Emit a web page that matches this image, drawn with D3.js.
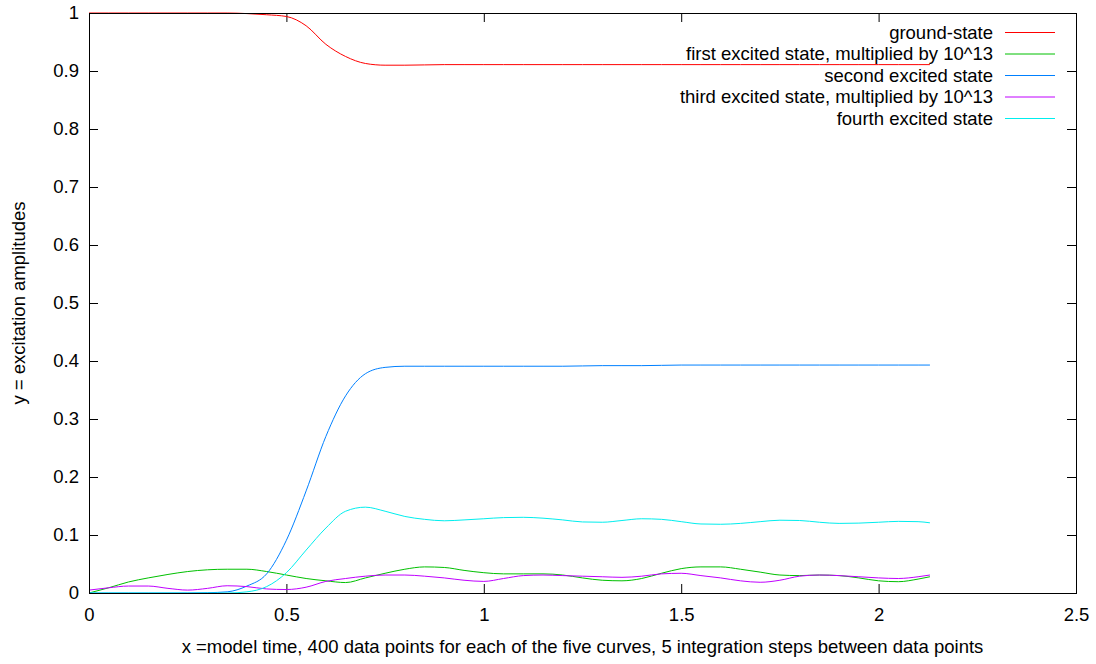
<!DOCTYPE html>
<html>
<head>
<meta charset="utf-8">
<script src="https://cdn.jsdelivr.net/npm/d3@7"></script>
<style>
    body { margin: 0; background: #fff; }
    svg { display: block; font-family: "Liberation Sans", Arial, sans-serif; }
</style>
</head>
<body>
<div id="chart"></div>
<script>
// model time (shared x values of the sampled curves)
const times = [0, 0.05, 0.1, 0.15, 0.2, 0.25, 0.3, 0.35, 0.4, 0.45, 0.5, 0.55, 0.6, 0.65, 0.7, 0.75, 0.8, 0.85, 0.9, 0.95,
    1.0, 1.05, 1.1, 1.15, 1.2, 1.25, 1.3, 1.35, 1.4, 1.45, 1.5, 1.55, 1.6, 1.65, 1.7, 1.75, 1.8, 1.85, 1.9, 1.95,
    2.0, 2.05, 2.1, 2.13];

const groundState = [1, 1, 1, 1, 1, 1, 1, 1, 0.999, 0.997, 0.994, 0.978, 0.946, 0.925, 0.913, 0.910, 0.910, 0.9105, 0.911, 0.911,
    0.911, 0.911, 0.911, 0.911, 0.911, 0.911, 0.911, 0.911, 0.911, 0.911, 0.911, 0.911, 0.911, 0.911, 0.911, 0.911, 0.911, 0.911, 0.911, 0.911,
    0.911, 0.911, 0.911, 0.911];

const firstExcited = [0, 0.009, 0.019, 0.026, 0.032, 0.037, 0.040, 0.041, 0.041, 0.037, 0.031, 0.025, 0.021, 0.018, 0.026, 0.034, 0.041, 0.045, 0.044, 0.039,
    0.035, 0.033, 0.033, 0.033, 0.031, 0.026, 0.022, 0.021, 0.025, 0.034, 0.042, 0.045, 0.045, 0.041, 0.036, 0.031, 0.030, 0.031, 0.030, 0.026,
    0.021, 0.0195, 0.024, 0.028];

const secondExcited = [0, 0, 0, 0, 0, 0, 0.0005, 0.002, 0.012, 0.033, 0.091, 0.176, 0.270, 0.340, 0.378, 0.389, 0.391, 0.391, 0.391, 0.391,
    0.391, 0.391, 0.391, 0.391, 0.391, 0.3915, 0.392, 0.392, 0.392, 0.3925, 0.393, 0.393, 0.393, 0.393, 0.393, 0.393, 0.393, 0.393, 0.393, 0.393,
    0.393, 0.393, 0.393, 0.393];

const thirdExcited = [0.005, 0.009, 0.012, 0.012, 0.008, 0.005, 0.008, 0.0125, 0.011, 0.007, 0.006, 0.010, 0.020, 0.025, 0.029, 0.031, 0.031, 0.029, 0.026, 0.022,
    0.020, 0.025, 0.030, 0.031, 0.030, 0.029, 0.028, 0.027, 0.029, 0.033, 0.034, 0.030, 0.026, 0.021, 0.0185, 0.022, 0.029, 0.031, 0.030, 0.028,
    0.026, 0.025, 0.028, 0.031];

const fourthExcited = [0, 0, 0, 0, 0, 0, 0, 0, 0.002, 0.011, 0.035, 0.074, 0.112, 0.141, 0.148, 0.141, 0.132, 0.127, 0.1245, 0.126,
    0.128, 0.130, 0.1305, 0.129, 0.126, 0.1225, 0.122, 0.125, 0.128, 0.127, 0.123, 0.119, 0.1185, 0.120, 0.123, 0.1255, 0.125, 0.122, 0.120, 0.1205,
    0.122, 0.1235, 0.123, 0.121];

const seriesNames = ["ground-state", "first excited state, multiplied by 10^13", "second excited state",
    "third excited state, multiplied by 10^13", "fourth excited state"];
const seriesValues = [groundState, firstExcited, secondExcited, thirdExcited, fourthExcited];
const seriesColors = ["#ff0000", "#00c000", "#0080ff", "#c000ff", "#00eeee"];

const xTicks = [0, 0.5, 1, 1.5, 2, 2.5];
const yTicks = [0, 0.1, 0.2, 0.3, 0.4, 0.5, 0.6, 0.7, 0.8, 0.9, 1];

const xTitle = "x =model time, 400 data points for each of the five curves, 5 integration steps between data points";
const yTitle = "y = excitation amplitudes";

// 画布尺寸
const width = 1096, height = 664;
const margin = { top: 13, right: 20, bottom: 71, left: 89 };
const fontSize = 18.5;

const svg = d3.select("#chart")
    .append("svg")
    .attr("width", width)
    .attr("height", height);

const x = d3.scaleLinear().domain([0, 2.5]).range([margin.left, width - margin.right]);
const y = d3.scaleLinear().domain([0, 1]).range([height - margin.bottom, margin.top]);

// 刻度（gnuplot 风格：内向、四边镜像）
const tickLen = 9;
const axes = [
    { axis: d3.axisBottom(x).tickValues(xTicks).tickFormat(d3.format("")), pos: `translate(0,${y(0)})`, labels: true, pad: 15 },
    { axis: d3.axisTop(x).tickValues(xTicks), pos: `translate(0,${y(1)})`, labels: false, pad: 0 },
    { axis: d3.axisLeft(y).tickValues(yTicks).tickFormat(d3.format("")), pos: `translate(${x(0)},0)`, labels: true, pad: 10 },
    { axis: d3.axisRight(y).tickValues(yTicks), pos: `translate(${x(2.5)},0)`, labels: false, pad: 0 }
];
axes.forEach(a => {
    const g = svg.append("g")
        .attr("transform", a.pos)
        .call(a.axis.tickSizeInner(-tickLen).tickSizeOuter(0).tickPadding(a.pad));
    g.select(".domain").remove();
    g.selectAll(".tick line").attr("stroke", "#000").attr("stroke-width", 1);
    g.selectAll(".tick text")
        .attr("fill", "#000")
        .attr("font-size", fontSize)
        .attr("font-family", "Liberation Sans, Arial, sans-serif");
    if (!a.labels) g.selectAll(".tick text").remove();
});

// 曲线
const line = d3.line()
    .x((d, i) => x(times[i]))
    .y(d => y(d))
    .curve(d3.curveMonotoneX);

svg.append("g")
    .selectAll("path")
    .data(seriesValues)
    .join("path")
    .attr("fill", "none")
    .attr("stroke", (d, i) => seriesColors[i])
    .attr("stroke-width", 1)
    .attr("d", line);

// 边框
svg.append("rect")
    .attr("x", x(0) + 0.5)
    .attr("y", y(1) + 0.5)
    .attr("width", x(2.5) - x(0))
    .attr("height", y(0) - y(1))
    .attr("fill", "none")
    .attr("stroke", "#000")
    .attr("stroke-width", 1);

// 图例
const legend = svg.append("g")
    .selectAll("g")
    .data(seriesNames)
    .join("g")
    .attr("transform", (d, i) => `translate(0,${32.5 + i * 21.5})`);

legend.append("text")
    .attr("x", 993)
    .attr("dy", "0.35em")
    .attr("text-anchor", "end")
    .attr("font-size", fontSize)
    .attr("fill", "#000")
    .text(d => d);

legend.append("line")
    .attr("x1", 1005)
    .attr("x2", 1055)
    .attr("stroke", (d, i) => seriesColors[i])
    .attr("stroke-width", 1);

// 坐标轴标题
svg.append("text")
    .attr("x", (x(0) + x(2.5)) / 2)
    .attr("y", 653)
    .attr("text-anchor", "middle")
    .attr("font-size", fontSize)
    .text(xTitle);

svg.append("text")
    .attr("transform", `translate(25,${(y(0) + y(1)) / 2}) rotate(-90)`)
    .attr("text-anchor", "middle")
    .attr("font-size", fontSize)
    .text(yTitle);
</script>
</body>
</html>
